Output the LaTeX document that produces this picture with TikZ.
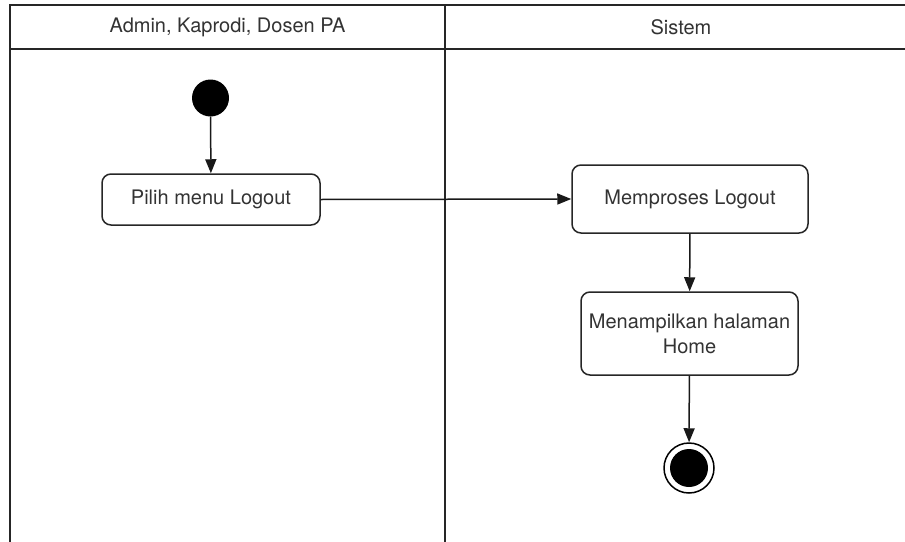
\documentclass[tikz,border=0pt]{standalone}
\usepackage{fontspec}
\setmainfont{TeX Gyre Heros}
\usetikzlibrary{arrows.meta}
\begin{document}
\begin{tikzpicture}[x=1pt,y=-1pt,
  every node/.style={text=black!80, font=\fontsize{20}{25}\selectfont},
  lane/.style={draw=black!85, line width=1.5pt},
  action/.style={draw=black!85, line width=1.5pt, rounded corners=9pt,
    align=center, inner sep=0pt},
  flow/.style={draw=black!90, line width=1.5pt,
    -{Triangle[length=14pt,width=11pt]}},
  startnode/.style={circle, fill=black, minimum size=37pt, inner sep=0pt},
  endnode/.style={circle, draw=black, line width=1.5pt, minimum size=50pt,
    inner sep=0pt, fill=white,
    path picture={\fill[black] (path picture bounding box.center) circle (19pt);}}
]
\useasboundingbox (0,0) rectangle (905,541);

% swimlane frame
\draw[lane] (905,5) -- (10,5) -- (10,545);
\draw[lane] (10,49) -- (905,49);
\draw[lane] (445,5) -- (445,545);
\node (laneA) at (227.5,27) {Admin, Kaprodi, Dosen PA};
\node (laneB) at (681,27) {Sistem};

% actions
\node[startnode] (start) at (210.5,98) {};
\node[action, minimum width=218pt, minimum height=51pt] (pilih) at (211,199.5) {Pilih menu Logout};
\node[action, minimum width=236pt, minimum height=68pt] (proses) at (690,199) {Memproses Logout};
\node[action, minimum width=217pt, minimum height=83pt] (tampil) at (689.5,333.5) {Menampilkan halaman\\Home};
\node[endnode] (end) at (689,468) {};

% control flow
\draw[flow] (start) -- (pilih);
\draw[flow] (pilih.east) -- (proses.west);
\draw[flow] (proses) -- (tampil);
\draw[flow] (tampil) -- (end);
\end{tikzpicture}
\end{document}
